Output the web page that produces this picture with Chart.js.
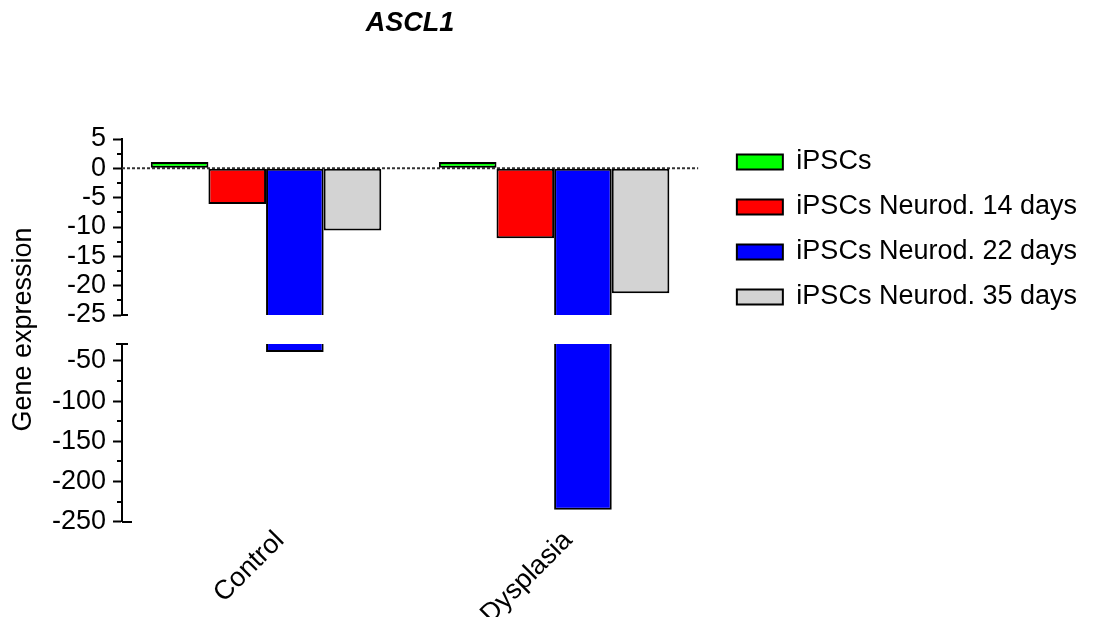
<!DOCTYPE html>
<html>
<head>
<meta charset="utf-8">
<title>ASCL1</title>
<script src="https://cdn.jsdelivr.net/npm/chart.js@4.4.1/dist/chart.umd.min.js"></script>
<style>
  html, body { margin: 0; padding: 0; background: #fff; }
  #wrap { width: 1094px; height: 617px; }
</style>
</head>
<body>
<div id="wrap"><canvas id="chart"></canvas></div>
<script>
// Categories and series
const CATEGORIES    = ["Control", "Dysplasia"];
const SERIES_LABELS = ["iPSCs", "iPSCs Neurod. 14 days", "iPSCs Neurod. 22 days", "iPSCs Neurod. 35 days"];
const SERIES_COLORS = ["#00ff00", "#ff0000", "#0000ff", "#d3d3d3"];

const IPSCS     = [1.1, 1.1];
const NEUROD_14 = [-6.1, -11.9];
const NEUROD_22 = [-39, -235];
const NEUROD_35 = [-10.6, -21.3];

// Broken y axis: upper and lower segment ranges + tick steps
const UPPER_RANGE = [-25, 5];
const UPPER_STEP  = 5;
const LOWER_RANGE = [-250, -29];
const LOWER_STEP  = 50;

const FONT_SIZE = 27;

Chart.defaults.font.family = "'Liberation Sans', Arial, sans-serif";
Chart.defaults.font.size = FONT_SIZE;
Chart.defaults.color = "#000";

/**
 * One bar dataset drawn on the upper axis segment
 */
function upperDataset(i, values) {
  return {
    label: SERIES_LABELS[i],
    data: values.map(v => Math.max(v, UPPER_RANGE[0])),
    yAxisID: "y",
    stack: "s" + i,
    backgroundColor: SERIES_COLORS[i],
    borderColor: "#000",
    borderWidth: 2,
    borderSkipped: false,
  };
}

const datasets = [
  upperDataset(0, IPSCS),
  upperDataset(1, NEUROD_14),
  // bars that run past the break lose their border at the cut
  { ...upperDataset(2, NEUROD_22), borderSkipped: "end" },
  upperDataset(3, NEUROD_35),
  {
    label: SERIES_LABELS[2],
    data: NEUROD_22.map(v => (v < UPPER_RANGE[0] ? v : null)),
    yAxisID: "yLow",
    stack: "s2",
    base: LOWER_RANGE[1],
    backgroundColor: SERIES_COLORS[2],
    borderColor: "#000",
    borderWidth: 2,
    borderSkipped: "start",
  },
];

/**
 * Zero line, minor ticks and the end caps of the broken axis
 */
const brokenAxisPlugin = {
  id: "brokenAxis",
  beforeDatasetsDraw(chart) {
    const { ctx, chartArea } = chart;
    const py = chart.scales.y.getPixelForValue(0);
    ctx.save();
    ctx.strokeStyle = "#333";
    ctx.lineWidth = 2;
    ctx.setLineDash([3, 2]);
    ctx.beginPath();
    ctx.moveTo(chartArea.left, py);
    ctx.lineTo(chartArea.right, py);
    ctx.stroke();
    ctx.restore();
  },
  afterDraw(chart) {
    const { ctx } = chart;
    const up = chart.scales.y;
    const low = chart.scales.yLow;
    const ax = up.right;

    const hline = (y, x1, x2) => {
      ctx.beginPath();
      ctx.moveTo(x1, y);
      ctx.lineTo(x2, y);
      ctx.stroke();
    };

    ctx.save();
    ctx.strokeStyle = "#000";
    ctx.lineWidth = 2;

    for (const s of [up, low]) {
      const t = s.ticks;
      for (let i = 0; i < t.length - 1; i++) {
        const mid = (t[i].value + t[i + 1].value) / 2;
        hline(Math.round(s.getPixelForValue(mid)), ax - 5, ax);
      }
    }

    hline(Math.round(up.getPixelForValue(UPPER_RANGE[0])), ax, ax + 6);
    hline(Math.round(low.getPixelForValue(LOWER_RANGE[1])), ax - 6, ax + 6);
    hline(Math.round(low.getPixelForValue(LOWER_RANGE[0])), ax, ax + 10);
    ctx.restore();
  },
};

const Y_AXIS_WIDTH = 122;
const hiddenParts = {
  grid: { display: false, drawTicks: false },
  border: { display: false },
  ticks: { display: false },
};

new Chart(document.getElementById("chart"), {
  type: "bar",
  data: { labels: CATEGORIES, datasets },
  plugins: [brokenAxisPlugin],
  options: {
    responsive: true,
    maintainAspectRatio: false,
    animation: false,
    layout: { padding: { left: 0, top: 0, right: 7, bottom: 0 } },
    datasets: { bar: { categoryPercentage: 0.8, barPercentage: 1.0 } },
    plugins: {
      title: {
        display: true,
        text: "ASCL1",
        fullSize: false,
        font: { size: FONT_SIZE, weight: "bold", style: "italic" },
        color: "#000",
        padding: { top: 7.4, bottom: 99.2 },
      },
      legend: {
        position: "right",
        align: "start",
        maxWidth: 420,
        title: { display: true, text: "", padding: { top: 98, bottom: 0 } },
        labels: {
          boxWidth: 46,
          boxHeight: 15,
          padding: 18,
          color: "#000",
          font: { size: FONT_SIZE },
          filter: (item) => item.datasetIndex < SERIES_LABELS.length,
        },
      },
      tooltip: { enabled: false },
    },
    scales: {
      x: {
        grid: { display: false, drawTicks: false },
        border: { display: false },
        ticks: {
          color: "#000",
          minRotation: 45,
          maxRotation: 45,
          autoSkip: false,
          padding: 3,
          labelOffset: 14,
        },
        afterFit: (s) => { s.height = 95.3; },
      },
      yLow: {
        type: "linear",
        position: "left",
        stack: "split",
        stackWeight: 177.7,
        stacked: false,
        min: LOWER_RANGE[0],
        max: LOWER_RANGE[1],
        ticks: { stepSize: LOWER_STEP, includeBounds: false, autoSkip: false, color: "#000", padding: 7 },
        grid: { drawOnChartArea: false, tickLength: 9, tickWidth: 2, tickColor: "#000" },
        border: { color: "#000", width: 2 },
        afterFit: (s) => { s.width = Y_AXIS_WIDTH; },
      },
      yGap: {
        type: "linear",
        position: "left",
        stack: "split",
        stackWeight: 29,
        ...hiddenParts,
        title: {
          display: true,
          text: "Gene expression",
          color: "#000",
          font: { size: FONT_SIZE },
          padding: { top: 7.4, bottom: 0 },
        },
        afterFit: (s) => { s.width = Y_AXIS_WIDTH; },
      },
      y: {
        type: "linear",
        position: "left",
        stack: "split",
        stackWeight: 176,
        stacked: false,
        min: UPPER_RANGE[0],
        max: UPPER_RANGE[1],
        ticks: { stepSize: UPPER_STEP, autoSkip: false, color: "#000", padding: 7 },
        grid: { drawOnChartArea: false, tickLength: 9, tickWidth: 2, tickColor: "#000" },
        border: { color: "#000", width: 2 },
        afterFit: (s) => { s.width = Y_AXIS_WIDTH; },
      },
      yPad: {
        type: "linear",
        position: "right",
        ...hiddenParts,
        afterFit: (s) => { s.width = 20.7; },
      },
    },
  },
});
</script>
</body>
</html>
